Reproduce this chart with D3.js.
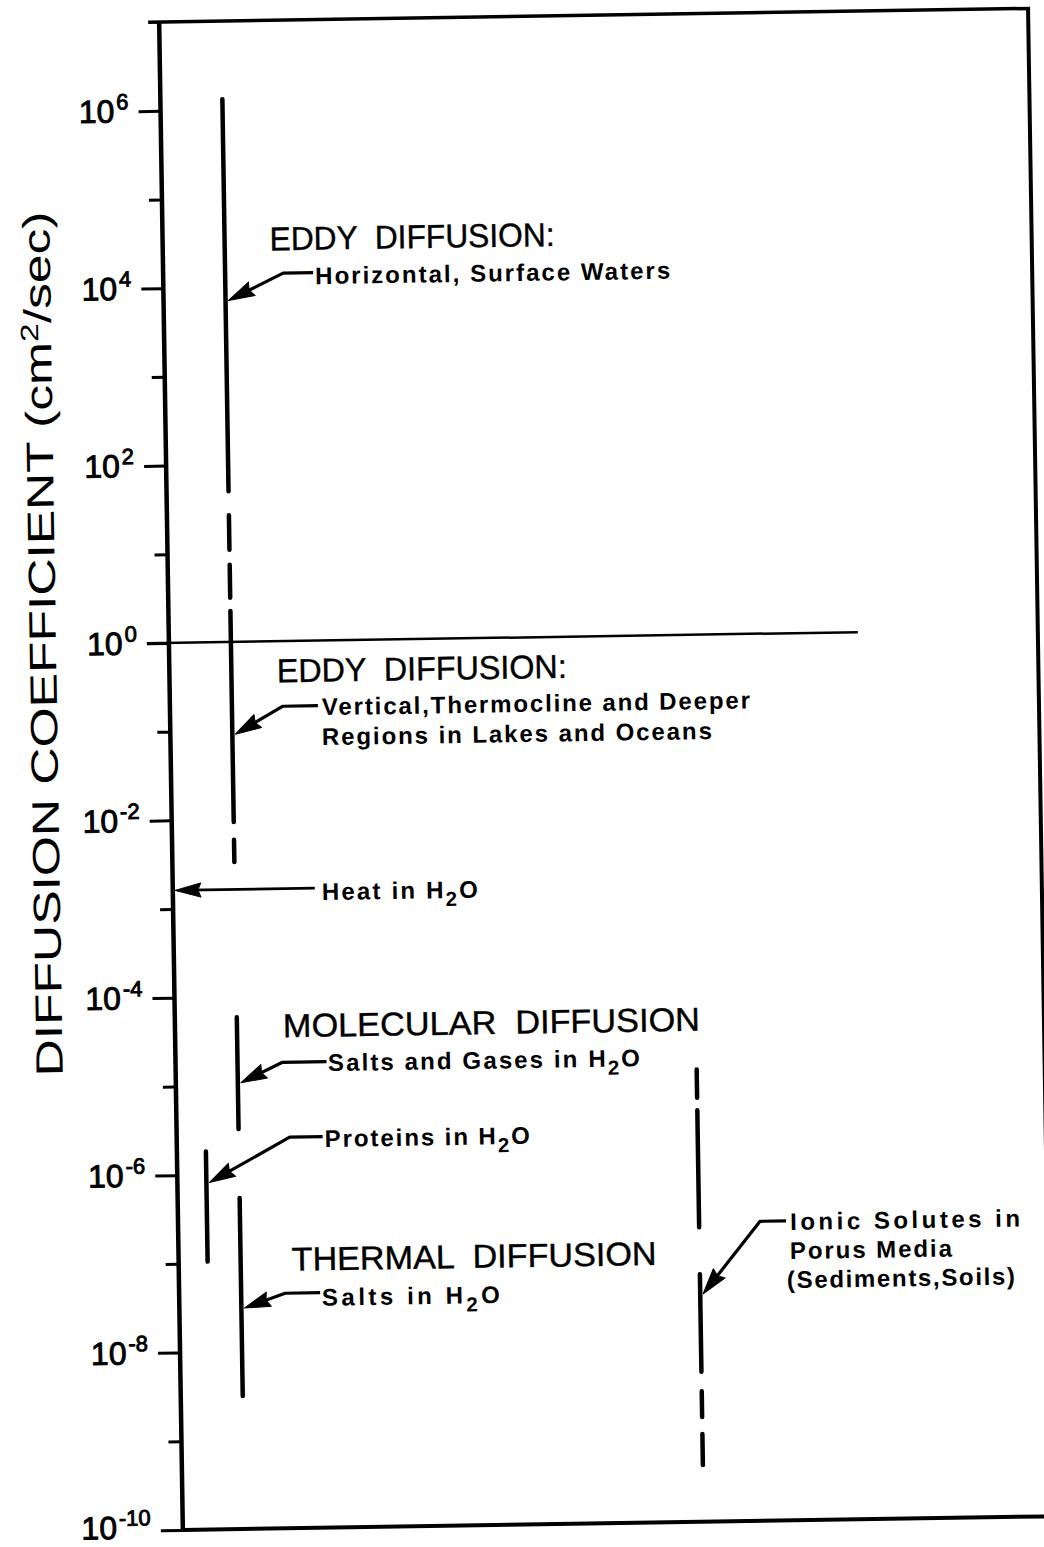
<!DOCTYPE html>
<html><head><meta charset="utf-8">
<script src="https://cdn.jsdelivr.net/npm/d3@7"></script>
<style>html,body{margin:0;padding:0;background:#fff;} svg{display:block;}</style>
</head><body>
<svg id="chart" width="1044" height="1547"></svg>
<script>
// ---------------- DATA (log10 of diffusion coefficient, cm^2/sec) ----------------
const majorExponents = [6, 4, 2, 0, -2, -4, -6, -8, -10];
const minorExponents = [5, 3, 1, -1, -3, -5, -7, -9];
const seriesNames = ["eddyHorizontal", "eddyVertical", "molecularSalts", "proteins", "thermalSalts", "ionicPorous"];
const solidSegments = [
  [[6.12, 1.70]],
  [[0.35, -2.03]],
  [[-4.23, -5.49]],
  [[-5.74, -6.98]],
  [[-6.27, -8.50]],
  [[-5.36, -6.68], [-7.21, -8.31]]
];
const dashedSegments = [
  [[1.43, 1.04], [0.87, 0.50]],
  [[-2.23, -2.48]],
  [],
  [],
  [],
  [[-4.90, -5.22], [-8.53, -8.82], [-9.01, -9.36]]
];
const arrowTargets = [3.85, -1.04, -4.97, -6.09, -7.51, -7.43];
const heatInWater = -2.79;
const boundaryValue = 0;          // horizontal line at 10^0
const yDomainExp = [-10, 7];

// text content
const headings = ["EDDY  DIFFUSION:", "EDDY  DIFFUSION:", "MOLECULAR  DIFFUSION", null, "THERMAL  DIFFUSION", null];
const subLabels = [
  [["Horizontal, Surface Waters"]],
  [["Vertical,Thermocline and Deeper"], ["Regions in Lakes and Oceans"]],
  [["Salts and Gases in H", "2", "O"]],
  [["Proteins in H", "2", "O"]],
  [["Salts in H", "2", "O"]],
  [["Ionic Solutes in"], ["Porus Media"], ["(Sediments,Soils)"]]
];
const heatLabel = ["Heat in H", "2", "O"];
const yTitle = ["DIFFUSION COEFFICIENT (cm", "2", "/sec)"];

// ---------------- LAYOUT (pixels, not data) ----------------
const L = {
  axisX: 171, right: 1040, top: 22, bottom: 1530,
  columns: [233, 233, 233, 200, 233, 692],
  boundaryEnd: 860,
  headingPos: [[278, 252, 285], [278.4, 684, 290], [279, 1039, 417], null, [284, 1272.5, 365], null],
  subPos: [
    [[323, 286.5, 355]],
    [[323, 717.5, 428], [322.5, 747.5, 390]],
    [[323.4, 1073.5, 312]],
    [[319, 1149.4, 205]],
    [[313.7, 1308, 178]],
    [[783, 1239.7, 230], [782.4, 1268.7, 162], [779, 1297.7, 228]]
  ],
  elbows: [[291, 321, 275], [284, 319, 708], [278, 322, 1064], [284, 317, 1139], [277, 312, 1295], [753, 779, 1230.5]],
  heatLine: [313, 893], heatText: [320, 902.4, 156],
  font: "'Liberation Sans', Arial, Helvetica, sans-serif"
};

const svg = d3.select("#chart");
const g = svg.append("g").attr("transform", "rotate(-0.9, 171, 776)");

const y = d3.scaleLog().domain([Math.pow(10, yDomainExp[0]), Math.pow(10, yDomainExp[1])]).range([L.bottom, L.top]);
const yv = e => y(Math.pow(10, e));

// frame
g.append("line").attr("x1", L.axisX - 11).attr("x2", L.right + 2).attr("y1", L.top).attr("y2", L.top)
  .attr("stroke", "#000").attr("stroke-width", 3.5);
g.append("line").attr("x1", L.right).attr("x2", L.right).attr("y1", L.top).attr("y2", L.bottom)
  .attr("stroke", "#000").attr("stroke-width", 4);
g.append("line").attr("x1", L.axisX).attr("x2", L.right + 20).attr("y1", L.bottom).attr("y2", L.bottom)
  .attr("stroke", "#000").attr("stroke-width", 4);

// y axis with d3 axis
const axis = d3.axisLeft(y)
  .tickValues(majorExponents.map(e => Math.pow(10, e)))
  .tickSize(22).tickFormat("");
const ax = g.append("g").attr("transform", `translate(${L.axisX},0)`).call(axis);
ax.select(".domain").attr("d", `M0,${L.top}V${L.bottom}`).attr("stroke", "#000").attr("stroke-width", 4.5);
ax.selectAll(".tick line").attr("stroke", "#000").attr("stroke-width", 3);

const minorAxis = d3.axisLeft(y).tickValues(minorExponents.map(e => Math.pow(10, e))).tickSize(13).tickFormat("");
const mx = g.append("g").attr("transform", `translate(${L.axisX},0)`).call(minorAxis);
mx.select(".domain").remove();
mx.selectAll(".tick line").attr("stroke", "#000").attr("stroke-width", 3);

// tick labels 10^n
const lab = g.append("g").attr("font-family", L.font).attr("fill", "#000")
  .attr("stroke", "#000").attr("stroke-width", 0.9);
majorExponents.forEach((e, i) => {
  const off = i === majorExponents.length - 1 ? 8 : 11;
  const t = lab.append("text").attr("x", 139).attr("y", yv(e) + off).attr("text-anchor", "end").attr("font-size", 32);
  t.append("tspan").text("10");
  t.append("tspan").attr("dy", -13).attr("font-size", 22).attr("dx", 2).text(String(e));
});

// y title
const yt = g.append("text")
  .attr("transform", `translate(58,642) rotate(-90)`)
  .attr("text-anchor", "middle").attr("font-family", L.font).attr("font-size", 38)
  .attr("textLength", 865).attr("lengthAdjust", "spacingAndGlyphs");
yt.append("tspan").text(yTitle[0]);
yt.append("tspan").attr("dy", -13).attr("font-size", 25).text(yTitle[1]);
yt.append("tspan").attr("dy", 13).text(yTitle[2]);

// boundary line at 10^0
g.append("line").attr("x1", L.axisX - 22).attr("x2", L.boundaryEnd)
  .attr("y1", yv(boundaryValue)).attr("y2", yv(boundaryValue))
  .attr("stroke", "#000").attr("stroke-width", 2.5);

// range lines
seriesNames.forEach((name, i) => {
  const x = L.columns[i];
  g.selectAll(null).data(solidSegments[i]).join("line")
    .attr("x1", x).attr("x2", x).attr("y1", d => yv(d[0])).attr("y2", d => yv(d[1]))
    .attr("stroke", "#000").attr("stroke-width", 4.5).attr("stroke-linecap", "round");
  g.selectAll(null).data(dashedSegments[i]).join("line")
    .attr("x1", x).attr("x2", x).attr("y1", d => yv(d[0])).attr("y2", d => yv(d[1]))
    .attr("stroke", "#000").attr("stroke-width", 4.5).attr("stroke-linecap", "round");
});

// arrow helper
function arrowHead(sel, tip, from, len, half) {
  const dx = tip[0] - from[0], dy = tip[1] - from[1];
  const n = Math.hypot(dx, dy), ux = dx / n, uy = dy / n;
  const bx = tip[0] - ux * len, by = tip[1] - uy * len;
  const px = -uy, py = ux;
  sel.append("path")
    .attr("d", `M${tip[0]},${tip[1]}L${bx + px * half},${by + py * half}L${bx + ux * 3},${by + uy * 3}L${bx - px * half},${by - py * half}Z`)
    .attr("fill", "#000").attr("stroke", "#000").attr("stroke-width", 1).attr("stroke-linejoin", "round");
}

// leaders
seriesNames.forEach((name, i) => {
  const [ex1, ex2, ey] = L.elbows[i];
  const tip = [L.columns[i] + 3, yv(arrowTargets[i])];
  const from = [ex1, ey];
  const dx = tip[0] - from[0], dy = tip[1] - from[1], n = Math.hypot(dx, dy);
  const stop = [tip[0] - dx / n * 14, tip[1] - dy / n * 14];
  g.append("path").attr("d", `M${ex2},${ey}L${ex1},${ey}L${stop[0]},${stop[1]}`)
    .attr("fill", "none").attr("stroke", "#000").attr("stroke-width", 3.2).attr("stroke-linejoin", "round");
  arrowHead(g, tip, from, 26, 7.5);
});

// heat arrow
{
  const ty = yv(heatInWater);
  const tip = [L.axisX + 2, ty];
  g.append("line").attr("x1", L.heatLine[0]).attr("x2", tip[0] + 14).attr("y1", ty).attr("y2", ty)
    .attr("stroke", "#000").attr("stroke-width", 2.8);
  arrowHead(g, tip, [L.heatLine[0], ty], 26, 7);
}

// text helpers
function richText(sel, parts, x, yb, w, size, weight, adjust) {
  const t = sel.append("text").attr("x", x).attr("y", yb)
    .attr("font-family", L.font).attr("font-size", size).attr("font-weight", weight)
    .attr("textLength", w).attr("lengthAdjust", adjust);
  if (parts.length === 1) { t.text(parts[0]); return t; }
  t.append("tspan").text(parts[0]);
  t.append("tspan").attr("dy", 8).attr("font-size", size * 0.85).text(parts[1]);
  t.append("tspan").attr("dy", -8).text(parts[2]);
  return t;
}

seriesNames.forEach((name, i) => {
  if (headings[i]) {
    const [x, yb, w] = L.headingPos[i];
    richText(g, [headings[i]], x, yb, w, 33, "normal", "spacingAndGlyphs")
      .style("white-space", "pre").attr("stroke", "#000").attr("stroke-width", 0.4);
  }
  subLabels[i].forEach((parts, j) => {
    const [x, yb, w] = L.subPos[i][j];
    richText(g, parts, x, yb, w, 24, "bold", "spacing");
  });
});
richText(g, heatLabel, L.heatText[0], L.heatText[1], L.heatText[2], 24, "bold", "spacing");
</script>
</body></html>
